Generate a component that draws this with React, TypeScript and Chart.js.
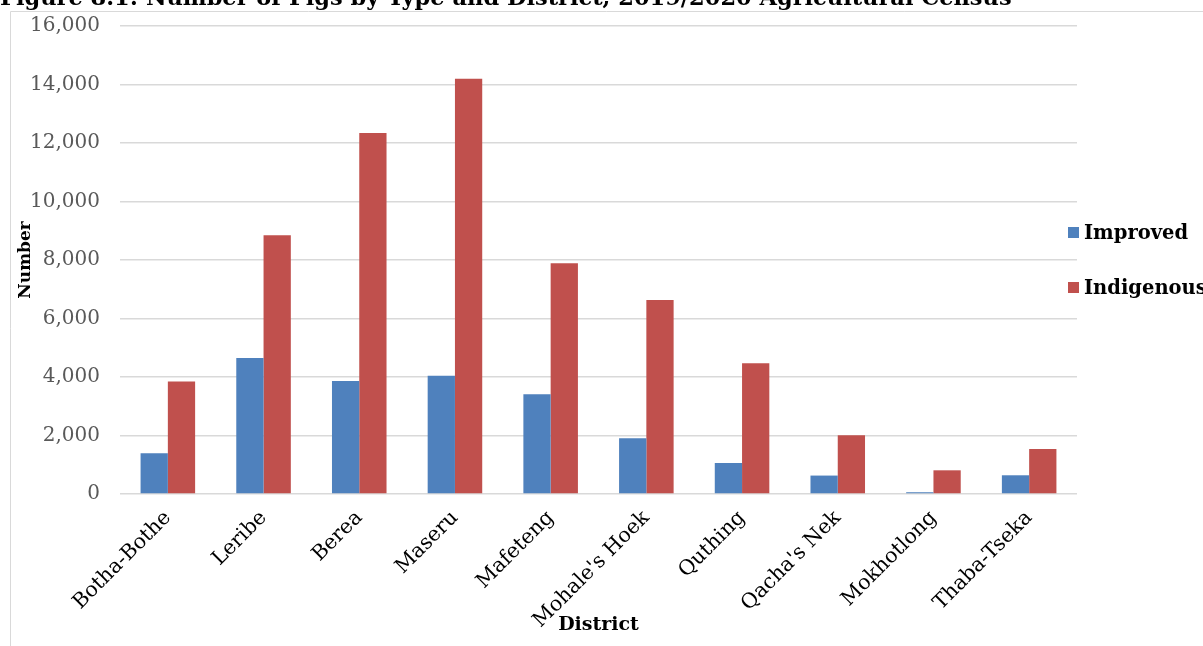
import React, { useEffect, useRef } from "react";
import { Chart, registerables } from "chart.js";

Chart.register(...registerables);

// Pig counts per district, 2019/2020 Agricultural Census
const districts = [
  "Botha-Bothe",
  "Leribe",
  "Berea",
  "Maseru",
  "Mafeteng",
  "Mohale's Hoek",
  "Quthing",
  "Qacha's Nek",
  "Mokhotlong",
  "Thaba-Tseka",
];
const improved = [1390, 4650, 3860, 4040, 3410, 1910, 1060, 630, 60, 640];
const indigenous = [3850, 8850, 12340, 14200, 7890, 6630, 4470, 2010, 810, 1540];
const yTicks = [0, 2000, 4000, 6000, 8000, 10000, 12000, 14000, 16000];

const seriesLabels = ["Improved", "Indigenous"];
const seriesColors = ["#4F81BD", "#C0504D"];

const TITLE = "Figure 8.1: Number of Pigs by Type and District, 2019/2020 Agricultural Census";
const FONT = "'DejaVu Serif', serif";

// The canvas sits slightly above the page top; SHIFT converts page y to canvas y
const SHIFT = 6;
const CANVAS_W = 1203;
const CANVAS_H = 646 + SHIFT;

// Frame, figure caption and the side legend
const decorations = {
  id: "decorations",
  beforeDraw(chart: any) {
    const ctx = chart.ctx;
    ctx.save();
    ctx.strokeStyle = "#D9D9D9";
    ctx.lineWidth = 1;
    ctx.beginPath();
    ctx.moveTo(10.5, chart.height);
    ctx.lineTo(10.5, 11.5 + SHIFT);
    ctx.lineTo(chart.width, 11.5 + SHIFT);
    ctx.stroke();
    ctx.restore();
  },
  afterDraw(chart: any) {
    const ctx = chart.ctx;
    const area = chart.chartArea;
    ctx.save();
    ctx.fillStyle = "#000";
    ctx.font = `bold 22.5px ${FONT}`;
    ctx.textAlign = "left";
    ctx.textBaseline = "alphabetic";
    ctx.fillText(TITLE, 0, 5 + SHIFT);

    const midY = (area.top + area.bottom) / 2;
    const gap = 55;
    const boxX = area.right - 9;
    chart.data.datasets.forEach((ds: any, i: number) => {
      const cy = midY - gap / 2 + i * gap;
      ctx.fillStyle = ds.backgroundColor;
      ctx.fillRect(boxX, cy - 5.5, 11, 11);
      ctx.fillStyle = "#000";
      ctx.font = `bold 19.5px ${FONT}`;
      ctx.textBaseline = "middle";
      ctx.fillText(ds.label, boxX + 16, cy + 1);
    });
    ctx.restore();
  },
};

export default function App() {
  const canvasRef = useRef<HTMLCanvasElement | null>(null);

  useEffect(() => {
    if (!canvasRef.current) return;
    Chart.defaults.font.family = FONT;
    const chart = new Chart(canvasRef.current, {
      type: "bar",
      data: {
        labels: districts,
        datasets: [
          {
            label: seriesLabels[0],
            data: improved,
            backgroundColor: seriesColors[0],
            barPercentage: 1,
            categoryPercentage: 0.57,
          },
          {
            label: seriesLabels[1],
            data: indigenous,
            backgroundColor: seriesColors[1],
            barPercentage: 1,
            categoryPercentage: 0.57,
          },
        ],
      },
      options: {
        animation: false,
        responsive: false,
        devicePixelRatio: 1,
        layout: { padding: { left: 0, right: 126, top: 19, bottom: 0 } },
        plugins: {
          legend: { display: false },
          title: { display: false },
          tooltip: { enabled: false },
        },
        scales: {
          x: {
            grid: { display: false, drawTicks: false },
            border: { display: false },
            ticks: {
              minRotation: 45,
              maxRotation: 45,
              autoSkip: false,
              padding: 12,
              color: "#000",
              font: { family: FONT, size: 20.5 },
            },
            title: {
              display: true,
              text: "District",
              color: "#000",
              font: { family: FONT, size: 19, weight: "bold" },
              padding: { top: 0, bottom: 10 },
            },
            afterFit: (scale: any) => {
              scale.height = 152;
            },
          },
          y: {
            min: 0,
            max: 16000,
            afterBuildTicks: (scale: any) => {
              scale.ticks = yTicks.map((v) => ({ value: v }));
            },
            ticks: {
              padding: 20,
              color: "#595959",
              font: { family: FONT, size: 20 },
              callback: (v: any) => Number(v).toLocaleString("en-US"),
            },
            grid: { color: "#D9D9D9", lineWidth: 1.5, drawTicks: false },
            border: { display: false },
            title: {
              display: true,
              text: "Number",
              color: "#000",
              font: { family: FONT, size: 17, weight: "bold" },
              padding: { top: 15, bottom: 0 },
            },
            afterFit: (scale: any) => {
              scale.width = 120;
            },
          },
        },
      },
      plugins: [decorations],
    });
    return () => chart.destroy();
  }, []);

  return (
    <div
      style={{
        position: "fixed",
        left: 0,
        top: 0,
        width: 1203,
        height: 646,
        overflow: "hidden",
        background: "#fff",
      }}
    >
      <canvas
        ref={canvasRef}
        width={CANVAS_W}
        height={CANVAS_H}
        style={{ display: "block", position: "absolute", left: 0, top: -SHIFT }}
      />
    </div>
  );
}
